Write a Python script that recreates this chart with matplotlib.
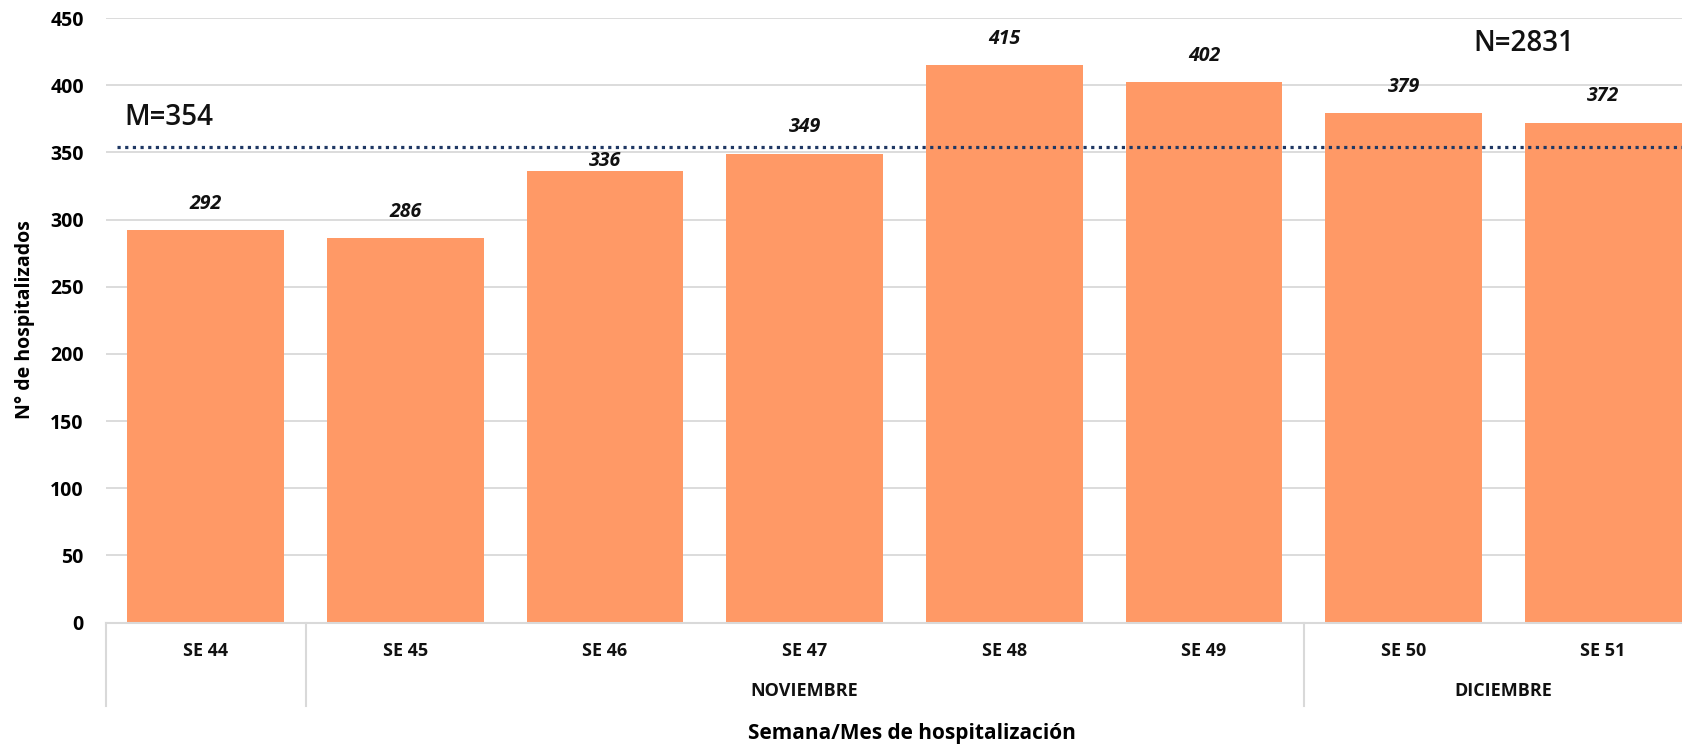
import matplotlib
matplotlib.use("Agg")
import matplotlib.pyplot as plt
import matplotlib.transforms as mtransforms

plt.rcParams['font.family'] = ['Open Sans', 'DejaVu Sans']

# data
semanas = ['SE 44', 'SE 45', 'SE 46', 'SE 47', 'SE 48', 'SE 49', 'SE 50', 'SE 51']
hospitalizados = [292, 286, 336, 349, 415, 402, 379, 372]
meses = ['', 'NOVIEMBRE', 'DICIEMBRE']
semanas_por_mes = [1, 5, 2]
media = 354
total = 2831

# label offsets above each bar (points)
label_offsets = [19, 19, 7, 19, 19, 19, 19, 19]

W, H = 1683, 748
fig = plt.figure(figsize=(W / 100, H / 100), dpi=100)
# plot area runs a bit past the right edge, like the cropped original
left_px, right_px, base_px, top_px = 106, 1703, 622.5, 18
ax = fig.add_axes([left_px / W, (H - base_px) / H,
                   (right_px - left_px) / W, (base_px - top_px) / H])
ax_h_px = base_px - top_px

x = list(range(len(semanas)))
ax.bar(x, hospitalizados, width=0.785, color='#FF9966', zorder=2)
ax.set_xlim(-0.5, len(semanas) - 0.5)
ax.set_ylim(0, 450)
ax.set_yticks(range(0, 451, 50))
ax.yaxis.grid(True, color='#D9D9D9', linewidth=1.3, zorder=0)
ax.set_axisbelow(True)
for s in ['top', 'right', 'left']:
    ax.spines[s].set_visible(False)
ax.spines['bottom'].set_color('#D9D9D9')
ax.spines['bottom'].set_linewidth(1.5)
ax.tick_params(axis='y', length=0, pad=16, labelsize=14)
for t in ax.get_yticklabels():
    t.set_fontweight('bold')
ax.set_xticks([])

# value labels
for xi, v, off in zip(x, hospitalizados, label_offsets):
    ax.annotate(str(v), (xi, v), xytext=(0, off), textcoords='offset points',
                ha='center', va='center', fontsize=14, fontweight='bold',
                fontstyle='italic', color='#111111')

# mean line
ax.axhline(media, xmin=0.007, xmax=1, color='#1F3864', linewidth=2.3,
           linestyle=(0, (1, 1.4)), zorder=3)
ax.text(-0.41, media + 22, f'M={media}', fontsize=20, va='center', ha='left',
        fontweight='semibold', color='#111111')
ax.text(6.6, 431, f'N={total}', fontsize=20, va='center', ha='center',
        fontweight='semibold', color='#111111')

# multi-level category axis
trans = mtransforms.blended_transform_factory(ax.transData, ax.transAxes)
def px_below(p):
    return -p / ax_h_px

for xi, s in zip(x, semanas):
    ax.text(xi, px_below(651 - base_px), s, transform=trans, ha='center',
            va='center', fontsize=13, fontweight='bold', color='#111111')

start = 0
bounds = [-0.5]
for mes, n in zip(meses, semanas_por_mes):
    centre = start + (n - 1) / 2
    ax.text(centre, px_below(691 - base_px), mes, transform=trans,
            ha='center', va='center', fontsize=13, fontweight='bold',
            color='#111111')
    start += n
    bounds.append(start - 0.5)

for b in bounds:
    ax.plot([b, b], [0, px_below(706 - base_px)], transform=trans,
            color='#D9D9D9', linewidth=1.5, clip_on=False)

fig.text(25 / W, 1 - 320 / H, 'N° de hospitalizados', rotation=90,
         ha='center', va='center', fontsize=14, fontweight='bold')
fig.text(912 / W, 1 - 733 / H, 'Semana/Mes de hospitalización',
         ha='center', va='center', fontsize=15, fontweight='bold')

fig.savefig('out.png', dpi=100)
